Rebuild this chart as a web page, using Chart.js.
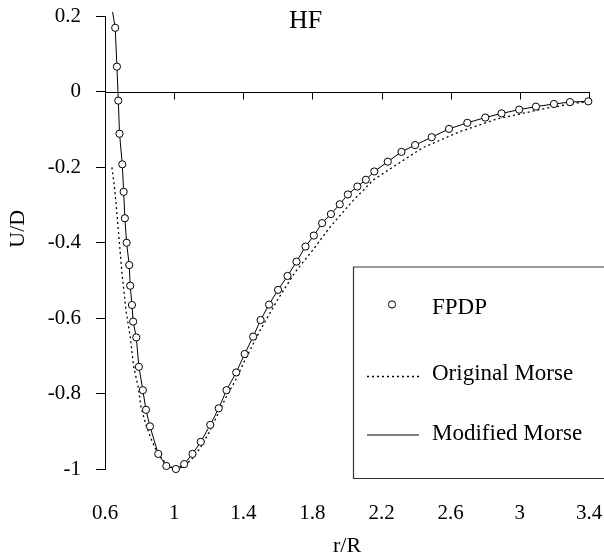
<!DOCTYPE html>
<html>
<head>
<meta charset="utf-8">
<script src="https://cdn.jsdelivr.net/npm/chart.js@4.4.1/dist/chart.umd.min.js"></script>
<style>
  html, body { margin: 0; padding: 0; background: #fff; }
  canvas { display: block; }
</style>
</head>
<body>
<canvas id="mycanvas" width="604" height="557"></canvas>
<script>
// tick labels
var xTicks = [0.6, 1, 1.4, 1.8, 2.2, 2.6, 3, 3.4];
var yTicks = [-1, -0.8, -0.6, -0.4, -0.2, 0, 0.2];

// FPDP points (r/R, U/D)
var fpdpR = [0.659, 0.669, 0.677, 0.684, 0.700, 0.708, 0.715, 0.725, 0.740, 0.746,
             0.756, 0.763, 0.781, 0.796, 0.819, 0.837, 0.860, 0.908, 0.955, 1.010,
             1.058, 1.106, 1.154, 1.209, 1.258, 1.303, 1.359, 1.408, 1.457, 1.500,
             1.549, 1.601, 1.656, 1.708, 1.760, 1.808, 1.856, 1.907, 1.958, 2.005,
             2.060, 2.109, 2.158, 2.236, 2.315, 2.394, 2.490, 2.590, 2.696, 2.800,
             2.894, 2.996, 3.093, 3.197, 3.290, 3.396];
var fpdpU = [0.170, 0.067, -0.023, -0.111, -0.192, -0.265, -0.335, -0.400, -0.459, -0.514,
             -0.565, -0.609, -0.651, -0.729, -0.791, -0.843, -0.887, -0.960, -0.992, -1.000,
             -0.987, -0.960, -0.928, -0.883, -0.839, -0.791, -0.744, -0.695, -0.649, -0.605,
             -0.564, -0.525, -0.488, -0.450, -0.410, -0.381, -0.348, -0.324, -0.298, -0.272,
             -0.251, -0.233, -0.211, -0.185, -0.159, -0.141, -0.120, -0.098, -0.082, -0.068,
             -0.057, -0.047, -0.039, -0.032, -0.027, -0.025];

// Modified Morse (solid), runs through the points and starts above the frame
var modifiedR = [0.644].concat(fpdpR);
var modifiedU = [0.212].concat(fpdpU);

// Original Morse (dotted)
var originalR = [0.640, 0.654, 0.665, 0.677, 0.688, 0.698, 0.710, 0.721, 0.734, 0.746,
                 0.766, 0.792, 0.808, 0.835, 0.861, 0.900, 0.950, 1.000, 1.050, 1.100,
                 1.150, 1.200, 1.300, 1.366, 1.400, 1.500, 1.600, 1.700, 1.808, 1.904,
                 2.039, 2.154, 2.270, 2.404, 2.443, 2.654, 2.866, 3.155, 3.347, 3.400];
var originalU = [-0.200, -0.250, -0.300, -0.366, -0.425, -0.480, -0.530, -0.578, -0.615, -0.649,
                 -0.729, -0.782, -0.835, -0.880, -0.914, -0.955, -0.985, -1.000, -0.995, -0.975,
                 -0.945, -0.905, -0.810, -0.755, -0.720, -0.630, -0.550, -0.478, -0.416, -0.357,
                 -0.286, -0.233, -0.198, -0.158, -0.147, -0.105, -0.072, -0.043, -0.028, -0.026];

function pairs(xs, ys) {
    var out = [];
    for (var i = 0; i < xs.length; i++) out.push({x: xs[i], y: ys[i]});
    return out;
}

var serif = '"Liberation Serif", "Times New Roman", serif';

// zero line with its ticks, HF label, rotated U/D label and the boxed legend
var extras = {
    id: 'extras',
    beforeDatasetsDraw: function(chart) {
        var ctx = chart.ctx;
        var a = chart.chartArea;
        var xs = chart.scales.x, ys = chart.scales.y;
        var y0 = Math.round(ys.getPixelForValue(0)) + 0.5;
        ctx.save();
        ctx.strokeStyle = '#000';
        ctx.lineWidth = 1;
        ctx.beginPath();
        ctx.moveTo(a.left, y0);
        ctx.lineTo(a.right + 1, y0);
        xTicks.forEach(function(v) {
            var px = Math.round(xs.getPixelForValue(v)) + 0.5;
            ctx.moveTo(px, y0);
            ctx.lineTo(px, y0 + 7);
        });
        ctx.stroke();
        ctx.restore();
    },
    afterDraw: function(chart) {
        var ctx = chart.ctx;
        var a = chart.chartArea;
        var xs = chart.scales.x;
        ctx.save();
        ctx.fillStyle = '#000';
        ctx.textAlign = 'center';
        ctx.textBaseline = 'alphabetic';
        ctx.font = '26px ' + serif;
        ctx.fillText('HF', xs.getPixelForValue(1.76), a.top + 11);

        ctx.save();
        ctx.translate(18, (a.top + a.bottom) / 2 - 14);
        ctx.rotate(-Math.PI / 2);
        ctx.font = '22px ' + serif;
        ctx.textBaseline = 'middle';
        ctx.fillText('U/D', 0, 0);
        ctx.restore();

        // legend box
        var bx = a.left + 248, by = a.top + 250, bb = a.bottom + 9;
        ctx.strokeStyle = '#333';
        ctx.lineWidth = 1.2;
        ctx.beginPath();
        ctx.moveTo(chart.width + 2, by + 0.5);
        ctx.lineTo(bx + 0.5, by + 0.5);
        ctx.lineTo(bx + 0.5, bb + 0.5);
        ctx.lineTo(chart.width + 2, bb + 0.5);
        ctx.stroke();

        ctx.font = '23px ' + serif;
        ctx.textAlign = 'left';
        ctx.textBaseline = 'alphabetic';
        var tx = bx + 79;
        var s0 = bx + 14, s1 = bx + 66;

        ctx.lineWidth = 1;
        ctx.strokeStyle = '#000';
        ctx.fillStyle = '#fff';
        ctx.beginPath();
        ctx.arc(bx + 39, by + 38, 3.6, 0, Math.PI * 2);
        ctx.fill();
        ctx.stroke();
        ctx.fillStyle = '#000';
        ctx.fillText('FPDP', tx, by + 47);

        ctx.setLineDash([2, 3]);
        ctx.lineWidth = 1.3;
        ctx.beginPath();
        ctx.moveTo(s0, by + 110);
        ctx.lineTo(s1, by + 110);
        ctx.stroke();
        ctx.setLineDash([]);
        ctx.fillText('Original Morse', tx, by + 113);

        ctx.lineWidth = 1;
        ctx.beginPath();
        ctx.moveTo(s0, by + 168.5);
        ctx.lineTo(s1, by + 168.5);
        ctx.stroke();
        ctx.fillText('Modified Morse', tx, by + 173);
        ctx.restore();
    }
};

var chartdata = {
    datasets: [
        {
            label: 'FPDP',
            data: pairs(fpdpR, fpdpU),
            showLine: false,
            pointRadius: 3.6,
            pointBorderWidth: 1,
            pointBackgroundColor: '#fff',
            pointBorderColor: '#000',
            clip: false
        },
        {
            label: 'Original Morse',
            data: pairs(originalR, originalU),
            showLine: true,
            borderColor: '#000',
            borderWidth: 1.3,
            borderDash: [2, 3],
            pointRadius: 0,
            tension: 0,
            clip: false
        },
        {
            label: 'Modified Morse',
            data: pairs(modifiedR, modifiedU),
            showLine: true,
            borderColor: '#000',
            borderWidth: 1,
            pointRadius: 0,
            tension: 0,
            clip: false
        }
    ]
};

function plainLabel(v) { return String(v); }

var ctx = document.getElementById('mycanvas');
var LineGraph = new Chart(ctx, {
    type: 'scatter',
    data: chartdata,
    plugins: [extras],
    options: {
        responsive: false,
        animation: false,
        devicePixelRatio: 1,
        layout: { autoPadding: false, padding: { top: 16.5, right: 15, bottom: 0, left: 48 } },
        plugins: { legend: { display: false }, tooltip: { enabled: false } },
        scales: {
            x: {
                type: 'linear',
                position: 'bottom',
                min: 0.6,
                max: 3.4,
                afterBuildTicks: function(scale) {
                    scale.ticks = xTicks.map(function(v) { return {value: v}; });
                },
                afterFit: function(scale) {
                    scale.height = 88;
                    scale.paddingLeft = 0;
                    scale.paddingRight = 0;
                },
                border: { display: false },
                grid: { display: false, drawTicks: false },
                ticks: {
                    color: '#000',
                    padding: 32,
                    maxRotation: 0,
                    callback: plainLabel,
                    font: { family: serif, size: 21 }
                },
                title: {
                    display: true,
                    text: 'r/R',
                    color: '#000',
                    font: { family: serif, size: 22, lineHeight: 1 },
                    padding: { top: 8.8, bottom: 0 }
                }
            },
            y: {
                type: 'linear',
                position: 'left',
                min: -1,
                max: 0.2,
                afterBuildTicks: function(scale) {
                    scale.ticks = yTicks.map(function(v) { return {value: v}; });
                },
                afterFit: function(scale) {
                    scale.width = 57;
                    scale.paddingTop = 0;
                    scale.paddingBottom = 0;
                },
                border: { display: true, color: '#000', width: 1 },
                grid: { drawOnChartArea: false, drawTicks: true, tickLength: 9, color: '#000' },
                ticks: {
                    color: '#000',
                    padding: 15,
                    callback: plainLabel,
                    font: { family: serif, size: 21 }
                }
            }
        }
    }
});
</script>
</body>
</html>
